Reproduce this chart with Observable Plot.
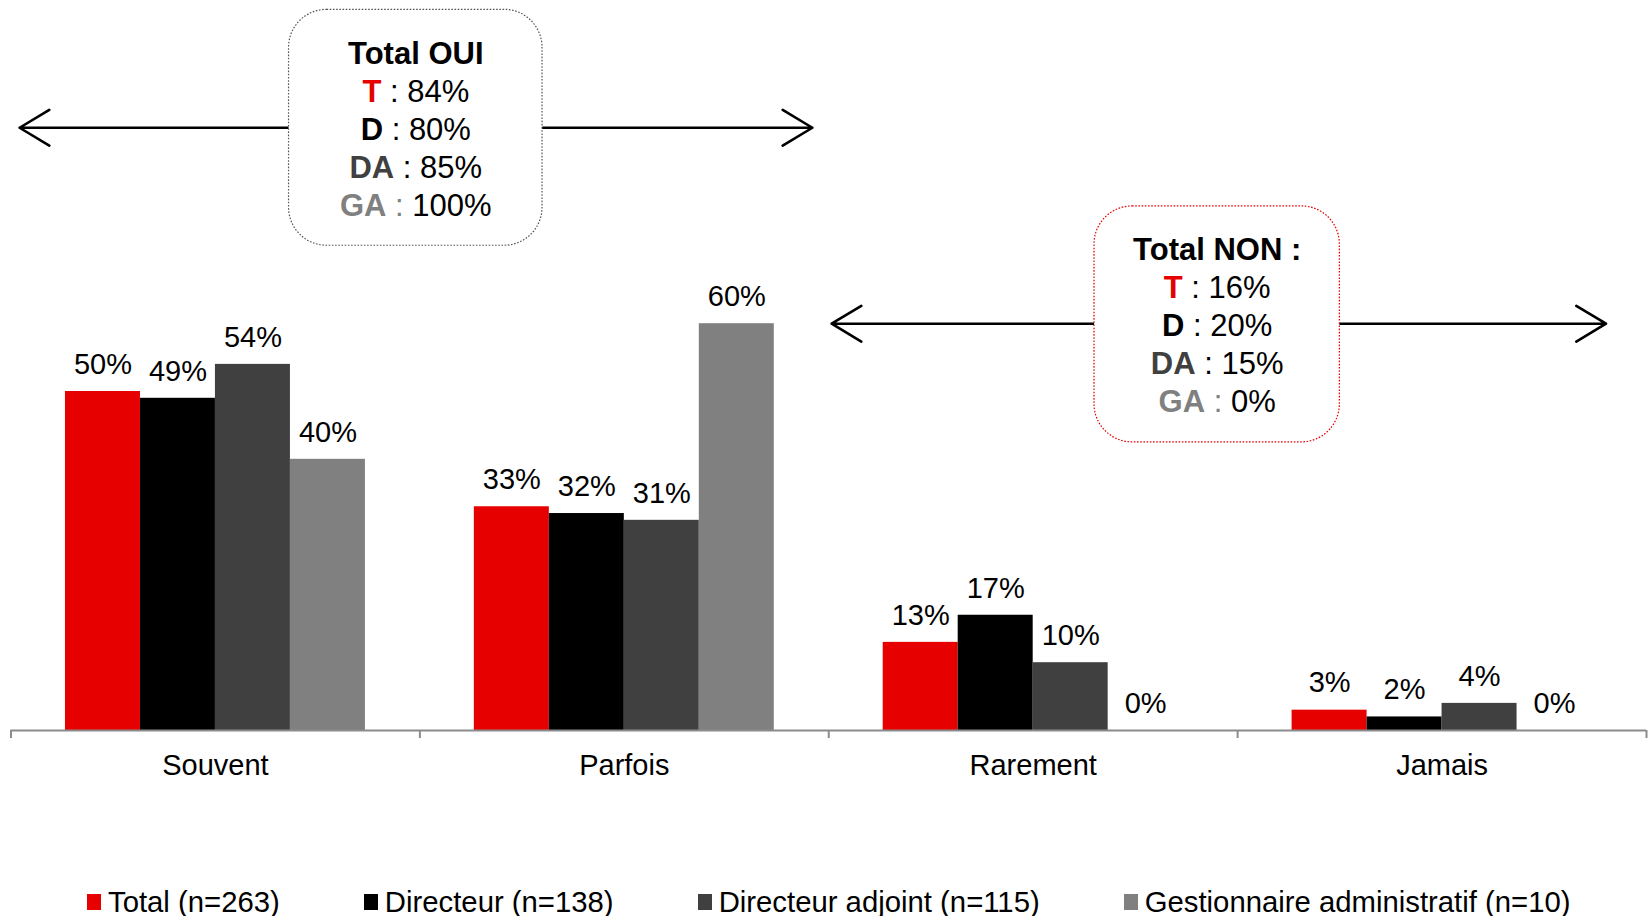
<!DOCTYPE html>
<html>
<head>
<meta charset="utf-8">
<script src="https://cdn.jsdelivr.net/npm/d3@7"></script>
<script src="https://cdn.jsdelivr.net/npm/@observablehq/plot@0.6"></script>
<style>
  html, body { margin: 0; padding: 0; background: #fff; }
  body { width: 1649px; height: 916px; overflow: hidden; font-family: "Liberation Sans", Arial, sans-serif; }
  #chart svg { display: block; }
  .legend { display: flex; align-items: center; height: 36px; padding-left: 87px; gap: 84px; font-size: 29.3px; color: #000; }
  .legend .item { display: flex; align-items: center; gap: 7px; white-space: nowrap; }
  .legend .sw { width: 14px; height: 16px; display: inline-block; }
</style>
</head>
<body>
<div id="chart"></div>
<div class="legend" id="legend"></div>
<script>
// ---- data ----
const categories = ["Souvent", "Parfois", "Rarement", "Jamais"];
const series = ["Total (n=263)", "Directeur (n=138)", "Directeur adjoint (n=115)", "Gestionnaire administratif (n=10)"];
const totalValues = [50, 33, 13, 3];
const directeurValues = [49, 32, 17, 2];
const adjointValues = [54, 31, 10, 4];
const gestionnaireValues = [40, 60, 0, 0];
const abbrevs = ["T", "D", "DA", "GA"];
const ouiValues = [84, 80, 85, 100];
const nonValues = [16, 20, 15, 0];

// ---- styles ----
const colors = ["#E60000", "#000000", "#404040", "#808080"];
const axisGray = "#8c8c8c";
const font = "'Liberation Sans', Arial, sans-serif";

// ---- layout (band units) ----
const barWidth = 0.1834;
const seriesValues = [totalValues, directeurValues, adjointValues, gestionnaireValues];
const rows = [];
categories.forEach((c, i) => {
  series.forEach((s, j) => {
    const x1 = i - (series.length * barWidth) / 2 + j * barWidth;
    rows.push({category: c, series: s, value: seriesValues[j][i], x1, x2: x1 + barWidth, cx: x1 + barWidth / 2});
  });
});
const bounds = categories.map((d, i) => i - 0.5).concat([categories.length - 0.5]);

// annotations (data coordinates)
const callouts = [
  {text: ["Total OUI"].concat(abbrevs.map((a, k) => `${a} : ${ouiValues[k]}%`)).join("\n"),
   cx: 0.49, cy: 88.9, x1: 0.18, x2: 0.80, y1: 71.5, y2: 106.3, stroke: "#555555"},
  {text: ["Total NON :"].concat(abbrevs.map((a, k) => `${a} : ${nonValues[k]}%`)).join("\n"),
   cx: 2.45, cy: 60.0, x1: 2.15, x2: 2.75, y1: 42.5, y2: 77.3, stroke: "#E60000"}
];
const arrows = [
  {x1: 0.18, x2: -0.479, y: 88.9},
  {x1: 0.80, x2: 1.46, y: 88.9},
  {x1: 2.15, x2: 1.507, y: 60.0},
  {x1: 2.75, x2: 3.401, y: 60.0}
];

const svg = Plot.plot({
  width: 1649,
  height: 884,
  marginLeft: 10.5,
  marginRight: 3,
  marginTop: 52,
  marginBottom: 154,
  x: {domain: [-0.5, 3.5], axis: null},
  y: {domain: [0, 100], axis: null},
  color: {domain: series, range: colors},
  style: {fontFamily: font, background: "#fff", overflow: "visible"},
  marks: [
    Plot.rect(rows, {x1: "x1", x2: "x2", y1: () => 0, y2: "value", fill: "series"}),
    Plot.ruleY([0], {stroke: axisGray, strokeWidth: 2}),
    Plot.ruleX(bounds, {x: d => d, y1: () => 0, y2: () => 0, insetBottom: -8, stroke: axisGray, strokeWidth: 2}),
    Plot.text(rows, {x: "cx", y: "value", text: d => d.value + "%", dy: -27, fontSize: 29, fill: "#000"}),
    Plot.text(categories, {x: (d, i) => i, y: () => 0, text: d => d, dy: 35, fontSize: 29, fill: "#000"}),
    Plot.arrow(arrows, {x1: "x1", x2: "x2", y1: "y", y2: "y", stroke: "#000", strokeWidth: 2.6, headLength: 20, headAngle: 62}),
    Plot.rect(callouts, {x1: "x1", x2: "x2", y1: "y1", y2: "y2", rx: 38, fill: "#fff", stroke: d => d.stroke, strokeWidth: 1.2, strokeDasharray: "1.6,1.6"}),
    Plot.text(callouts, {x: "cx", y: "cy", text: "text", fontSize: 31, lineHeight: 38 / 31, fill: "#000"})
  ]
});
document.getElementById("chart").appendChild(svg);

// style the callout lines: bold title, coloured bold abbreviations
d3.select(svg).selectAll("text").each(function () {
  const lines = d3.select(this).selectAll(":scope > tspan");
  if (lines.size() < 5) return;
  if (!lines.nodes()[0].textContent.startsWith("Total")) return;
  lines.each(function (_, k) {
    const line = d3.select(this);
    const content = line.text();
    if (k === 0) { line.attr("font-weight", "bold"); return; }
    const [label, rest] = content.split(" : ");
    line.text(null);
    line.append("tspan").attr("font-weight", "bold").attr("fill", colors[k - 1]).text(label);
    line.append("tspan").attr("fill", k === 4 ? colors[3] : "#000").text(" : ");
    line.append("tspan").attr("fill", "#000").text(rest);
  });
});

// legend
const legend = d3.select("#legend");
series.forEach((s, j) => {
  const item = legend.append("div").attr("class", "item");
  item.append("span").attr("class", "sw").style("background", colors[j]);
  item.append("span").text(s);
});
</script>
</body>
</html>
